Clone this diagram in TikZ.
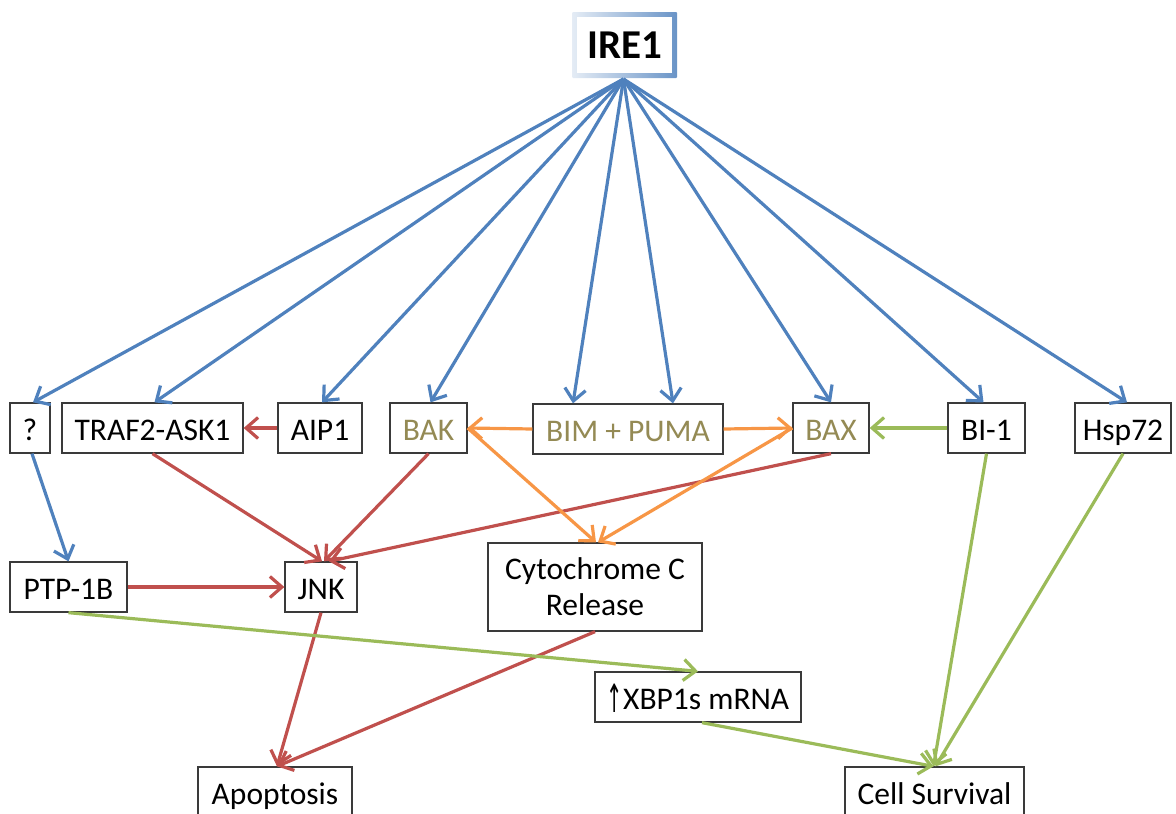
\documentclass[tikz,border=0pt]{standalone}
\usepackage{fontspec}
\usepackage{graphicx}
\setmainfont{Carlito}
\newfontfamily\dejavu{DejaVu Sans}
\usetikzlibrary{arrows.meta,calc}
\definecolor{eblue}{HTML}{4F81BD}
\definecolor{ered}{HTML}{C0504D}
\definecolor{egreen}{HTML}{9BBB59}
\definecolor{eorange}{HTML}{F79646}
\definecolor{olive}{HTML}{948A54}
\definecolor{boxline}{HTML}{3A3A3A}
\tikzset{
  box/.style={draw=boxline, line width=1.3pt, fill=white, inner sep=0pt, align=center,
    font=\fontsize{31.5}{36}\selectfont},
  one/.style={text height=29pt, text depth=4pt},
  olv/.style={text=olive},
  conn/.style={line width=3.2pt, -{Straight Barb[length=12pt,width=21pt,line width=3.2pt]}},
  bl/.style={conn, draw=eblue},
  rd/.style={conn, draw=ered},
  gr/.style={conn, draw=egreen},
  og/.style={conn, draw=eorange},
}
\begin{document}
\begin{tikzpicture}[x=1pt,y=-1pt]
\useasboundingbox (0,0) rectangle (1176,814);
% IRE1 box with gradient border
\shade[left color=eblue!15, right color=eblue!85, rounded corners=1pt] (572,12) rectangle (677,78);
\node[fill=white, inner sep=0pt, minimum width=95pt, minimum height=56pt,
  font=\fontsize{41}{46}\selectfont\bfseries] (ire) at (624.5,45) {IRE1};
\coordinate (src) at (623.5,79);
% nodes
\node[box, one, minimum width=40pt, minimum height=50pt] (q) at (30,428) {?};
\node[box, one, minimum width=181pt, minimum height=50pt] (traf) at (152.5,428) {TRAF2-ASK1};
\node[box, one, minimum width=84pt, minimum height=50pt] (aip) at (320,428) {AIP1};
\node[box, one, olv, minimum width=77pt, minimum height=50pt] (bak) at (428.5,428) {BAK};
\node[box, one, olv, minimum width=190pt, minimum height=50pt] (bim) at (628,429) {BIM + PUMA};
\node[box, one, olv, minimum width=76pt, minimum height=50pt] (bax) at (831,428) {BAX};
\node[box, one, minimum width=77pt, minimum height=50pt] (bi) at (986.5,428) {BI-1};
\node[box, one, minimum width=96pt, minimum height=50pt] (hsp) at (1123,428) {Hsp72};
\node[box, one, minimum width=117pt, minimum height=50pt] (ptp) at (68.5,587) {PTP-1B};
\node[box, one, minimum width=72pt, minimum height=50pt] (jnk) at (321,587) {JNK};
\node[box, minimum width=214pt, minimum height=88pt] (cyto) at (595,587) {Cytochrome C\\Release};
\node[box, one, minimum width=206pt, minimum height=50pt] (xbp) at (698,697) {{\dejavu\fontsize{26}{30}\selectfont\raisebox{-3pt}{\scalebox{0.75}[1.5]{↑}}}XBP1s mRNA};
\node[box, one, minimum width=154pt, minimum height=50pt] (apo) at (275,792) {Apoptosis};
\node[box, one, minimum width=179pt, minimum height=50pt] (cell) at (934.5,792) {Cell Survival};
% blue arrows from IRE1
\draw[bl] (src) -- ($(q.north)+(3,0)$);
\draw[bl] (src) -- ($(traf.north)+(2,0)$);
\draw[bl] (src) -- ($(aip.north)+(2,0)$);
\draw[bl] (src) -- ($(bak.north)+(2,0)$);
\draw[bl] (src) -- ($(bim.north)+(-55,0)$);
\draw[bl] (src) -- ($(bim.north)+(45,0)$);
\draw[bl] (src) -- (bax.north);
\draw[bl] (src) -- ($(bi.north)+(-3,0)$);
\draw[bl] (src) -- ($(hsp.north)+(4,0)$);
\draw[bl] ($(q.south)+(2,0)$) -- (ptp.north);
% red arrows
\draw[rd] (aip.west) -- (traf.east);
\draw[rd] (traf.south) -- ($(jnk.north)+(1,0)$);
\draw[rd] (bak.south) -- ($(jnk.north)+(3,0)$);
\draw[rd] (bax.south) -- ($(jnk.north)+(8,0)$);
\draw[rd] (ptp.east) -- (jnk.west);
\draw[rd] (jnk.south) -- ($(apo.north)+(2,0)$);
\draw[rd] (cyto.south) -- ($(apo.north)+(2,0)$);
% orange arrows
\draw[og] (bim.west) -- (bak.east);
\draw[og] (bim.east) -- (bax.west);
\draw[og] (bak.east) -- ($(cyto.north)+(1,0)$);
\draw[og] (bax.west) -- ($(cyto.north)+(3,0)$);
% green arrows
\draw[gr] (bi.west) -- (bax.east);
\draw[gr] (bi.south) -- ($(cell.north)+(-1,0)$);
\draw[gr] (hsp.south) -- ($(cell.north)+(1,0)$);
\draw[gr] (ptp.south) -- (xbp.north);
\draw[gr] ($(xbp.south)+(4,0)$) -- ($(cell.north)+(-1,0)$);
\end{tikzpicture}
\end{document}
